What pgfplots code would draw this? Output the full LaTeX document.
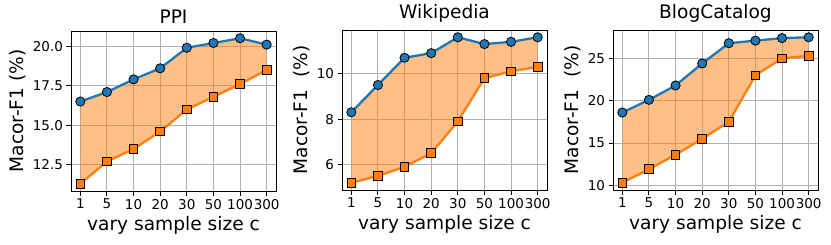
\documentclass[border=0pt]{standalone}
\usepackage{fontspec}
\setmainfont{DejaVu Sans}
\usepackage{pgfplots}
\pgfplotsset{compat=1.18}

\definecolor{mblue}{HTML}{1F77B4}
\definecolor{morange}{HTML}{FF7F0E}
\definecolor{mgrid}{HTML}{B0B0B0}

\pgfplotsset{
  mystyle/.style={
    scale only axis, width=205pt, height=160pt,
    xmin=-0.35, xmax=7.35,
    xtick={0,...,7}, xticklabels={1,5,10,20,30,50,100,300},
    grid=major, grid style={mgrid, line width=0.9pt},
    axis line style={black, line width=0.9pt},
    tick align=outside, major tick length=4.5pt,
    tick style={black, line width=0.9pt},
    tick pos=left,
    tick label style={font=\fontsize{13.5}{16}\selectfont},
    label style={font=\fontsize{18.6}{22}\selectfont},
    title style={font=\fontsize{18.6}{22}\selectfont, yshift=-2pt},
    /pgf/number format/assume math mode=true,
    xlabel={vary sample size c},
    xlabel style={yshift=0pt},
    anchor=south west,
  },
  blueline/.style={color=mblue, line width=2.3pt, mark=*, mark size=4.6pt,
    mark options={fill=mblue, draw=black, line width=0.8pt, solid}},
  orangeline/.style={color=morange, line width=2.3pt, mark=square*, mark size=4.3pt,
    mark options={fill=morange, draw=black, line width=0.8pt, solid}},
  band/.style={fill=morange, fill opacity=0.5, draw=none},
}

\begin{document}
\begin{tikzpicture}
\path (0,0) rectangle (831pt,244pt);

% PPI
\begin{axis}[mystyle, at={(71pt,53pt)},
  title={PPI}, ylabel={Macor-F1 (\%)},
  ymin=10.84, ymax=20.96,
  ytick={12.5,15,17.5,20},
  yticklabel style={/pgf/number format/fixed, /pgf/number format/fixed zerofill, /pgf/number format/precision=1},
  ]
\addplot[band] coordinates {(0,16.5) (1,17.1) (2,17.9) (3,18.6) (4,19.9) (5,20.2) (6,20.5) (7,20.1)
  (7,18.5) (6,17.6) (5,16.8) (4,16.0) (3,14.6) (2,13.5) (1,12.7) (0,11.3)} -- cycle;
\addplot[blueline] coordinates {(0,16.5) (1,17.1) (2,17.9) (3,18.6) (4,19.9) (5,20.2) (6,20.5) (7,20.1)};
\addplot[orangeline] coordinates {(0,11.3) (1,12.7) (2,13.5) (3,14.6) (4,16.0) (5,16.8) (6,17.6) (7,18.5)};
\end{axis}

% Wikipedia
\begin{axis}[mystyle, at={(342pt,54pt)},
  title={Wikipedia}, ylabel={Macor-F1\ \ (\%)},
  ymin=4.88, ymax=11.92,
  ytick={6,8,10},
  ]
\addplot[band] coordinates {(0,8.3) (1,9.5) (2,10.7) (3,10.9) (4,11.6) (5,11.3) (6,11.4) (7,11.6)
  (7,10.3) (6,10.1) (5,9.8) (4,7.9) (3,6.5) (2,5.9) (1,5.5) (0,5.2)} -- cycle;
\addplot[blueline] coordinates {(0,8.3) (1,9.5) (2,10.7) (3,10.9) (4,11.6) (5,11.3) (6,11.4) (7,11.6)};
\addplot[orangeline] coordinates {(0,5.2) (1,5.5) (2,5.9) (3,6.5) (4,7.9) (5,9.8) (6,10.1) (7,10.3)};
\end{axis}

% BlogCatalog
\begin{axis}[mystyle, at={(613pt,54pt)},
  title={BlogCatalog}, ylabel={Macor-F1\ \ (\%)},
  ymin=9.44, ymax=28.36,
  ytick={10,15,20,25},
  ]
\addplot[band] coordinates {(0,18.6) (1,20.1) (2,21.8) (3,24.4) (4,26.8) (5,27.1) (6,27.4) (7,27.5)
  (7,25.3) (6,25.0) (5,23.0) (4,17.5) (3,15.5) (2,13.6) (1,11.9) (0,10.3)} -- cycle;
\addplot[blueline] coordinates {(0,18.6) (1,20.1) (2,21.8) (3,24.4) (4,26.8) (5,27.1) (6,27.4) (7,27.5)};
\addplot[orangeline] coordinates {(0,10.3) (1,11.9) (2,13.6) (3,15.5) (4,17.5) (5,23.0) (6,25.0) (7,25.3)};
\end{axis}
\end{tikzpicture}
\end{document}
